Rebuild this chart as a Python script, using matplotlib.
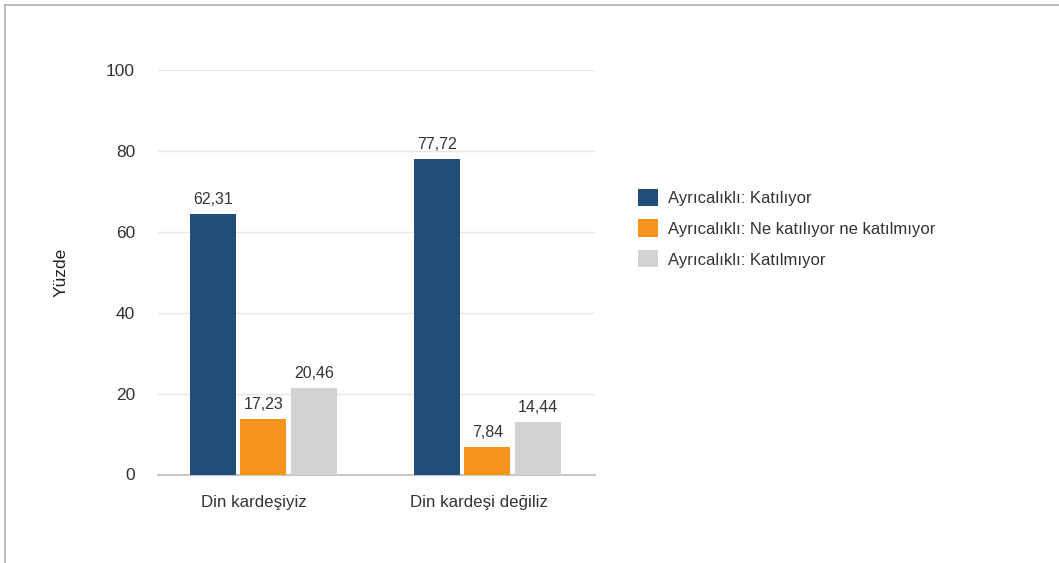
import matplotlib
matplotlib.use("Agg")
import matplotlib.pyplot as plt
from matplotlib.lines import Line2D
from matplotlib.patches import Patch
import numpy as np

plt.rcParams['font.family'] = ['Liberation Sans', 'DejaVu Sans']

categories = ["Din kardeşiyiz", "Din kardeşi değiliz"]
series_names = ["Ayrıcalıklı: Katılıyor",
                "Ayrıcalıklı: Ne katılıyor ne katılmıyor",
                "Ayrıcalıklı: Katılmıyor"]
# bar heights as drawn
heights = [[64.3, 77.9], [13.8, 6.8], [21.4, 13.0]]
# value labels as printed
labels = [["62,31", "77,72"], ["17,23", "7,84"], ["20,46", "14,44"]]
colors = ["#214d78", "#f7941d", "#d1d2d4"]
yticks = [0, 20, 40, 60, 80, 100]

W, H = 1059, 563
fig = plt.figure(figsize=(W / 100, H / 100), dpi=100)
ax = fig.add_axes([158 / W, (H - 474.5) / H, 437 / W, 404.5 / H])

x = np.arange(len(categories))
bw = 0.205
off = 0.225
for i, (h, lab, c) in enumerate(zip(heights, labels, colors)):
    xs = x + (i - 1) * off
    ax.bar(xs, h, width=bw, color=c, zorder=3)
    for xi, hi, li in zip(xs, h, lab):
        ax.annotate(li, (xi, hi), xytext=(0, 5), textcoords="offset points",
                    ha="center", va="bottom", fontsize=11.5, color="#333333")

ax.set_xlim(-0.47, 1.48)
ax.set_ylim(0, 100)
ax.set_yticks(yticks)
ax.set_yticklabels([str(t) for t in yticks], fontsize=12.5, color="#333333")
ax.set_xticks(x - 0.04)
ax.set_xticklabels(categories, fontsize=12.2, color="#333333")
ax.tick_params(axis="x", length=0, pad=15)
ax.tick_params(axis="y", length=0, pad=16.5)
ax.grid(axis="y", color="#e6e6e6", linewidth=1, zorder=0)
for s in ["top", "right", "left"]:
    ax.spines[s].set_visible(False)
ax.spines["bottom"].set_color("#c8c8c8")
ax.spines["bottom"].set_linewidth(1.5)
ax.set_ylabel("Yüzde", fontsize=12.5, color="#222222", labelpad=27)

handles = [Patch(facecolor=c, edgecolor="none") for c in colors]
leg = fig.legend(handles, series_names, loc="upper left",
                 bbox_to_anchor=(631 / W, 1 - 182 / H), frameon=False,
                 fontsize=12, handlelength=1.2, handleheight=1.2,
                 handletextpad=0.6, labelspacing=0.82, borderaxespad=0)
for t in leg.get_texts():
    t.set_color("#333333")

# outer border (top and left)
fig.add_artist(Line2D([5 / W, 1], [1 - 5 / H, 1 - 5 / H], color="#b0b0b0", lw=1.2))
fig.add_artist(Line2D([5 / W, 5 / W], [0, 1 - 5 / H], color="#b0b0b0", lw=1.2))

fig.savefig("out.png", dpi=100)
